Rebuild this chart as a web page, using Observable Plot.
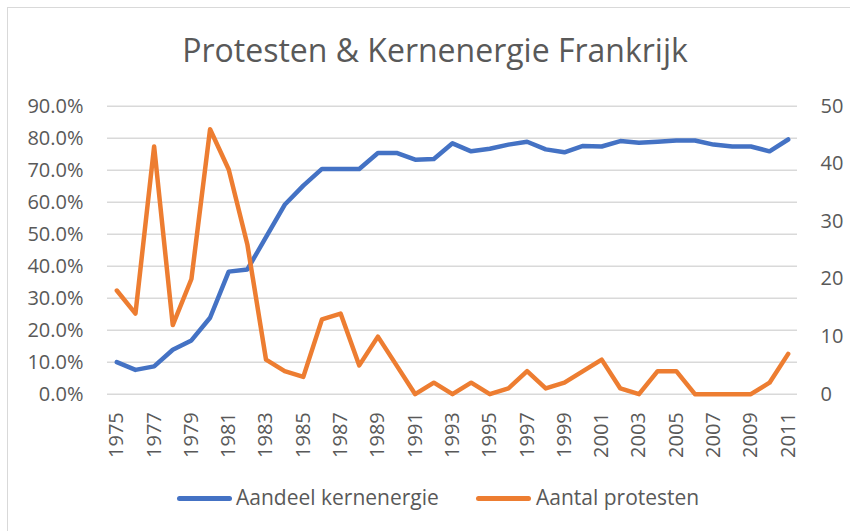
<!DOCTYPE html>
<html>
<head>
<meta charset="utf-8">
<script src="https://cdn.jsdelivr.net/npm/d3@7"></script>
<script src="https://cdn.jsdelivr.net/npm/@observablehq/plot@0.6"></script>
<style>
  html, body { margin: 0; padding: 0; background: #fff; }
  #chart { position: relative; width: 850px; height: 531px; overflow: hidden; font-family: "Open Sans", sans-serif; color: #595959; background: #fff; }
  #frame { position: absolute; left: 7px; top: 7px; width: 856px; height: 540px; border: 1px solid #d9d9d9; box-sizing: border-box; }
  #title { position: absolute; left: 0; top: 34px; width: 870px; text-align: center; font-size: 32px; line-height: 32px; white-space: nowrap; }
  #plot { position: absolute; left: 0; top: 0; }
  .sw { position: absolute; height: 5px; border-radius: 2.5px; }
  .lt { position: absolute; font-size: 21px; line-height: 21px; white-space: nowrap; }
</style>
</head>
<body>
<div id="chart">
  <div id="frame"></div>
  <div id="plot"></div>
  <div id="title">Protesten &amp; Kernenergie Frankrijk</div>
  <div id="legend"></div>
</div>
<script>
// ---- data ----
const years = [1975,1976,1977,1978,1979,1980,1981,1982,1983,1984,1985,1986,1987,1988,1989,1990,1991,1992,1993,1994,1995,1996,1997,1998,1999,2000,2001,2002,2003,2004,2005,2006,2007,2008,2009,2010,2011];
// Aandeel kernenergie (%)
const aandeel = [10.0,7.6,8.7,13.9,16.8,23.9,38.3,39.0,49.1,59.2,65.2,70.4,70.4,70.4,75.4,75.4,73.3,73.5,78.4,75.9,76.7,78.0,78.9,76.5,75.6,77.6,77.4,79.1,78.6,78.9,79.3,79.3,78.0,77.4,77.4,75.9,79.6];
// Aantal protesten
const protesten = [18,14,43,12,20,46,39,26,6,4,3,13,14,5,10,5,0,2,0,2,0,1,4,1,2,4,6,1,0,4,4,0,0,0,0,2,7];
const seriesNames = ["Aandeel kernenergie", "Aantal protesten"];
const seriesColors = ["#4472C4", "#ED7D31"];
const pctTicks = [0, 0.1, 0.2, 0.3, 0.4, 0.5, 0.6, 0.7, 0.8, 0.9];
const countTicks = [0, 10, 20, 30, 40, 50];
const yearTicks = [1975,1977,1979,1981,1983,1985,1987,1989,1991,1993,1995,1997,1999,2001,2003,2005,2007,2009,2011];

// ---- build ----
const rows = years.map((y, i) => ({year: y, share: aandeel[i] / 100, protests: protesten[i]}));
const pctMax = 0.9, countMax = 50;
const k = pctMax / countMax; // maps right axis (count) onto left axis (share)

const H = 470;
const chart = Plot.plot({
  width: 850,
  height: H,
  marginLeft: 107,
  marginRight: 53,
  marginTop: 105.7,
  marginBottom: H - 393.7,
  style: {fontFamily: "'Open Sans', sans-serif", fontSize: "20px", color: "#595959", background: "transparent", overflow: "visible"},
  x: {type: "linear", domain: [years[0] - 0.5, years[years.length - 1] + 0.5]},
  y: {domain: [0, pctMax]},
  marks: [
    Plot.ruleY(pctTicks, {stroke: "#d9d9d9", strokeWidth: 1.5}),
    Plot.axisY(pctTicks, {anchor: "left", tickSize: 0, tickPadding: 24, tickFormat: d3.format(".1%"), label: null, fill: "#595959"}),
    Plot.axisY(countTicks.map(c => c * k), {anchor: "right", tickSize: 0, tickPadding: 23, tickFormat: v => String(Math.round(v / k)), label: null, fill: "#595959"}),
    Plot.axisX(yearTicks, {anchor: "bottom", tickSize: 0, tickPadding: 18, tickRotate: -90, tickFormat: d => String(d), label: null, fill: "#595959"}),
    Plot.line(rows, {x: "year", y: "share", stroke: seriesColors[0], strokeWidth: 4.5, strokeLinejoin: "round", strokeLinecap: "round"}),
    Plot.line(rows, {x: "year", y: d => d.protests * k, stroke: seriesColors[1], strokeWidth: 4.5, strokeLinejoin: "round", strokeLinecap: "round"})
  ]
});
document.getElementById("plot").appendChild(chart);

// ---- legend ----
const legend = document.getElementById("legend");
const legendPos = [{sw: 177, tx: 236}, {sw: 476, tx: 536}];
seriesNames.forEach((name, i) => {
  const s = document.createElement("div");
  s.className = "sw";
  s.style.left = legendPos[i].sw + "px";
  s.style.top = "495.5px";
  s.style.width = "55px";
  s.style.background = seriesColors[i];
  legend.appendChild(s);
  const t = document.createElement("div");
  t.className = "lt";
  t.style.left = legendPos[i].tx + "px";
  t.style.top = "486.5px";
  t.textContent = name;
  legend.appendChild(t);
});
</script>
</body>
</html>
